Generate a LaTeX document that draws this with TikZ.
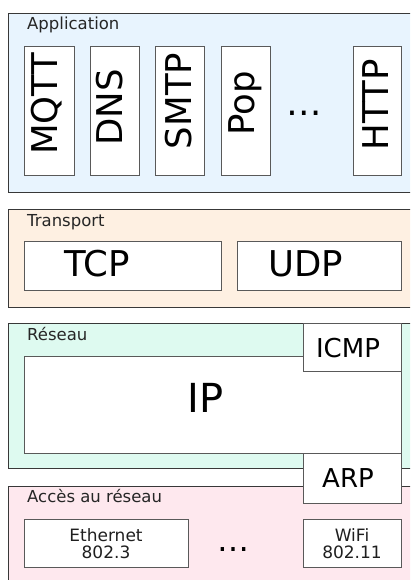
\documentclass[tikz,border=0pt]{standalone}
\usepackage{fontspec}
\setmainfont{DejaVu Sans}
\definecolor{appfill}{RGB}{232,244,254}
\definecolor{trfill}{RGB}{254,240,226}
\definecolor{resfill}{RGB}{222,250,240}
\definecolor{accfill}{RGB}{254,232,238}
\begin{document}
\begin{tikzpicture}[x=1pt,y=-1pt,
  layerbox/.style={draw=black!78, line width=1.2pt, inner sep=0pt, anchor=north west, minimum width=430pt},
  inbox/.style={draw=black!65, fill=white, line width=1.2pt, inner sep=0pt, anchor=north west},
  big/.style={font=\fontsize{35.5}{42}\selectfont, inner sep=0pt, text=black},
  mid/.style={font=\fontsize{26}{30}\selectfont, inner sep=0pt, text=black},
  small/.style={font=\fontsize{17}{17}\selectfont, inner sep=0pt, align=center, text=black!88},
  lbl/.style={font=\fontsize{16.5}{20}\selectfont, inner sep=0pt, anchor=base west, text=black!85},
]
\useasboundingbox (0,0) rectangle (410,580);
\clip (0,0) rectangle (410,580);

% Application layer
\node[layerbox, fill=appfill, minimum height=179.3pt] (app) at (8,12.7) {};
\node[lbl] (appl) at (27,30) {Application};
\node[inbox, minimum width=50pt, minimum height=129pt] (mqttb) at (24,46) {};
\node[inbox, minimum width=49pt, minimum height=129pt] (dnsb) at (90,46) {};
\node[inbox, minimum width=49pt, minimum height=129pt] (smtpb) at (155,46) {};
\node[inbox, minimum width=49pt, minimum height=129pt] (popb) at (221,46) {};
\node[inbox, minimum width=48pt, minimum height=129pt] (httpb) at (353,46) {};
\node[big, rotate=90] (mqtt) at (47,104) {MQTT};
\node[big, rotate=90] (dns) at (110,107.5) {DNS};
\node[big, rotate=90] (smtp) at (179,101) {SMTP};
\node[big, rotate=90] (pop) at (245,103) {Pop};
\node[big, rotate=90] (http) at (376,105) {HTTP};
\node[big] (appdots) at (304,113) {…};

% Transport layer
\node[layerbox, fill=trfill, minimum height=98.5pt] (tr) at (8,208.5) {};
\node[lbl] (trl) at (27,226.5) {Transport};
\node[inbox, minimum width=197pt, minimum height=49pt] (tcpb) at (24,241) {};
\node[inbox, minimum width=164pt, minimum height=49pt] (udpb) at (237,241) {};
\node[big, anchor=base] (tcp) at (97,276) {TCP};
\node[big, anchor=base] (udp) at (306,276) {UDP};

% Network layer
\node[layerbox, fill=resfill, minimum height=145pt] (res) at (8,323) {};
\node[lbl] (resl) at (27,340) {Réseau};
\node[inbox, minimum width=377pt, minimum height=97pt] (ipb) at (24,356) {};
\node[inbox, minimum width=98pt, minimum height=48pt] (icmpb) at (303,323) {};
\node[font=\fontsize{40}{46}\selectfont, inner sep=0pt, anchor=base, text=black] (ip) at (205.5,412) {IP};
\node[mid, anchor=base] (icmp) at (348,357) {ICMP};

% Network access layer
\node[layerbox, fill=accfill, minimum height=120pt] (acc) at (8,486) {};
\node[lbl] (accl) at (27,502) {Accès au réseau};
\node[inbox, minimum width=164pt, minimum height=48pt] (ethb) at (24,519) {};
\node[inbox, minimum width=98pt, minimum height=48pt] (wifib) at (303,519) {};
\node[small] (eth) at (106,543.5) {Ethernet\\802.3};
\node[small] (wifi) at (352,543.5) {WiFi\\802.11};
\node[font=\fontsize{32}{36}\selectfont, inner sep=0pt, text=black] (accdots) at (233.5,550) {…};

% ARP straddles the two lower layers
\node[inbox, minimum width=98pt, minimum height=50pt] (arpb) at (303,453) {};
\node[mid, anchor=base] (arp) at (348,487) {ARP};
\end{tikzpicture}
\end{document}
